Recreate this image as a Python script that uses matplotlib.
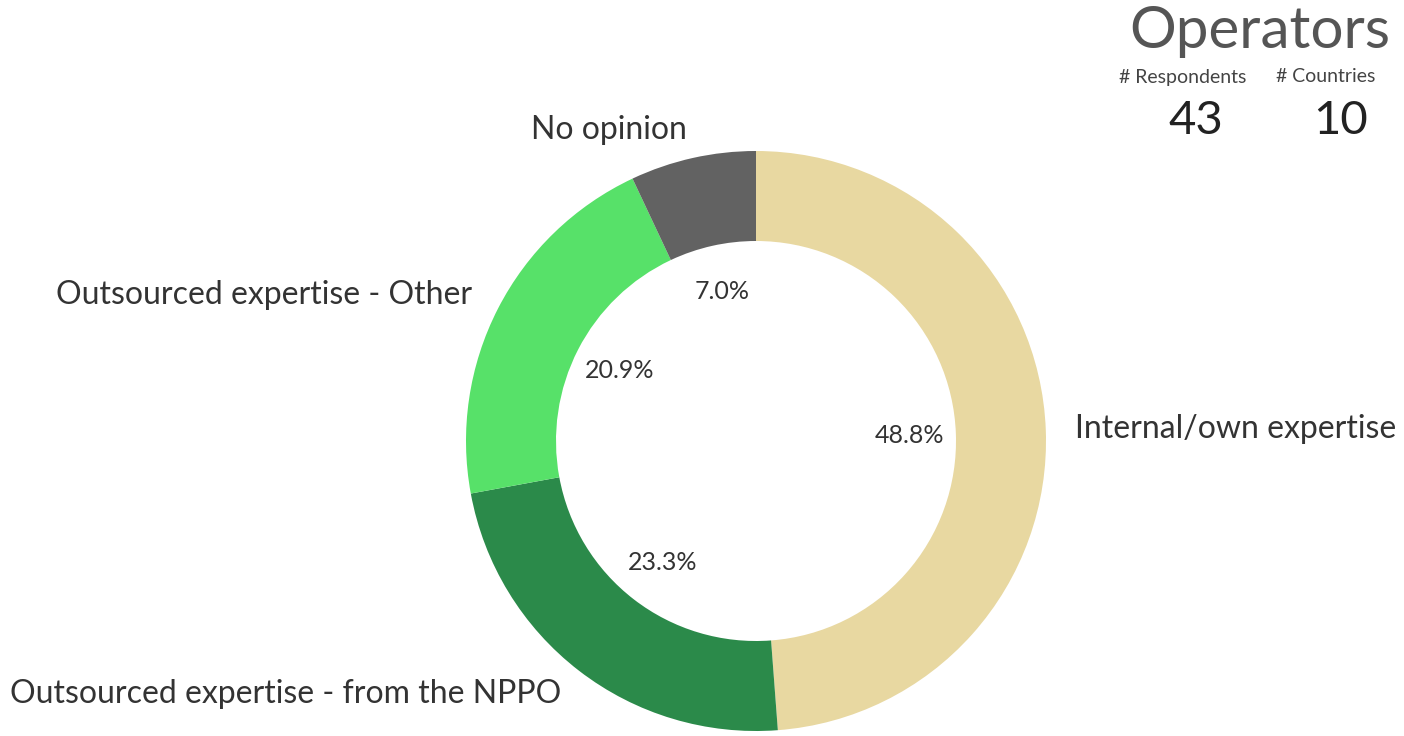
import numpy as np
import matplotlib.pyplot as plt

# data
categories = ["Internal/own expertise", "Outsourced expertise - from the NPPO",
              "Outsourced expertise - Other", "No opinion"]
shares = [48.8, 23.3, 20.9, 7.0]
colors = ["#E8D8A1", "#2B8A4A", "#57E169", "#626262"]
respondents = 43
countries = 10

W, H = 1404, 736
cx, cy = 756, H - 441
fig = plt.figure(figsize=(W / 100, H / 100), dpi=100)
ax = fig.add_axes([0, 0, 1, 1])

font = "Lato"
wedges, texts, autotexts = ax.pie(
    shares,
    labels=categories,
    colors=colors,
    startangle=90,
    counterclock=False,
    center=(cx, cy),
    radius=290,
    labeldistance=1.1,
    pctdistance=0.53,
    autopct="%.1f%%",
    wedgeprops=dict(width=90, linewidth=0),
    textprops=dict(family=font, color="#333333"),
)
# pie picks alignment from the sign of x, center is offset so redo it
for w, t in zip(wedges, texts):
    mid = np.deg2rad((w.theta1 + w.theta2) / 2)
    t.set_ha("left" if np.cos(mid) > 0 else "right")
    t.set_fontsize(23)
for t in autotexts:
    t.set_fontsize(18)

ax.set_xlim(0, W)
ax.set_ylim(0, H)
ax.set_aspect("equal")
ax.axis("off")

# header block, top right
fig.text(1390 / W, 1 - 32 / H, "Operators", ha="right", va="center",
         fontsize=42, color="#555555", family=font)
fig.text(1183 / W, 1 - 77 / H, "# Respondents", ha="center", va="center",
         fontsize=14, color="#444444", family=font)
fig.text(1326 / W, 1 - 77 / H, "# Countries", ha="center", va="center",
         fontsize=14, color="#444444", family=font)
fig.text(1196 / W, 1 - 121 / H, str(respondents), ha="center", va="center",
         fontsize=34, color="#222222", family=font)
fig.text(1341 / W, 1 - 121 / H, str(countries), ha="center", va="center",
         fontsize=34, color="#222222", family=font)

fig.savefig("out.png", dpi=100, facecolor="white")
